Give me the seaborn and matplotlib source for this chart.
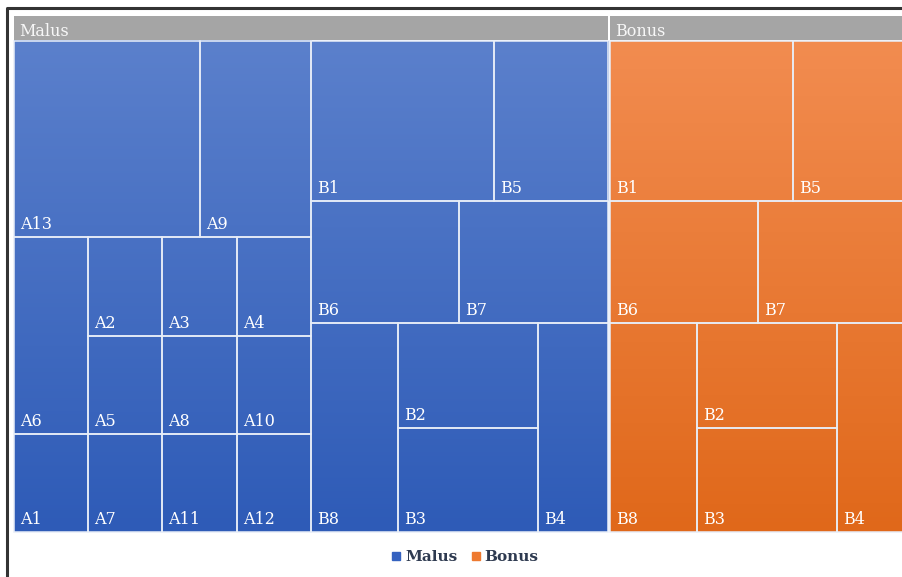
import numpy as np
import matplotlib
matplotlib.use("Agg")
import matplotlib.pyplot as plt
from matplotlib.lines import Line2D
from matplotlib.colors import to_rgb
import seaborn as sns

# ---- data -------------------------------------------------------------
groups = ["Malus", "Bonus"]
a_labels = ["A13", "A9", "A6", "A2", "A3", "A4", "A5", "A8", "A10",
            "A1", "A7", "A11", "A12"]
a_values = [5, 3, 2, 1, 1, 1, 1, 1, 1, 1, 1, 1, 1]
b_labels = ["B1", "B5", "B6", "B7", "B8", "B2", "B3", "B4"]
b_malus = [4, 2.5, 2.5, 2.5, 2.5, 2, 2, 2]
b_bonus = [4, 2.5, 2.5, 2.5, 2.5, 2, 2, 2]

# colour ramps (top -> bottom)
ramps = {"Malus": ("#5b80cc", "#2e5bb7"), "Bonus": ("#f28c50", "#e0681a")}
legend_marker = {"Malus": "#3562c0", "Bonus": "#ee7a30"}
header_color = "#a5a5a5"
legend_text = "#2e3a50"

sns.set_theme(style="white")
plt.rcParams["font.family"] = ["DejaVu Serif", "DejaVu Sans"]

# ---- treemap arrangement (split direction, children) --------------------
# "v" stacks children top to bottom, "h" places them left to right;
# every split is sized by the summed values of its children.
a_tree = ("v", [
    ("h", ["A13", "A9"]),
    ("v", [
        ("h", ["A6", ("v", [("h", ["A2", "A3", "A4"]),
                             ("h", ["A5", "A8", "A10"])])]),
        ("h", ["A1", "A7", "A11", "A12"]),
    ]),
])
b_tree = ("v", [
    ("h", ["B1", "B5"]),
    ("h", ["B6", "B7"]),
    ("h", ["B8", ("v", ["B2", "B3"]), "B4"]),
])


def weight(node, vals):
    if isinstance(node, str):
        return vals[node]
    return sum(weight(c, vals) for c in node[1])


def place(node, vals, x0, y0, x1, y1, out):
    if isinstance(node, str):
        out[node] = (x0, y0, x1, y1)
        return
    direction, children = node
    total = weight(node, vals)
    pos = x0 if direction == "h" else y0
    span = (x1 - x0) if direction == "h" else (y1 - y0)
    for c in children:
        step = span * weight(c, vals) / total
        if direction == "h":
            place(c, vals, pos, y0, pos + step, y1, out)
        else:
            place(c, vals, x0, pos, x1, pos + step, out)
        pos += step


malus_vals = dict(zip(a_labels, a_values))
malus_vals.update({"B:" + k: v for k, v in zip(b_labels, b_malus)})
bonus_vals = {"B:" + k: v for k, v in zip(b_labels, b_bonus)}


def prefixed(node):
    if isinstance(node, str):
        return "B:" + node
    return (node[0], [prefixed(c) for c in node[1]])


malus_tree = ("h", [a_tree, prefixed(b_tree)])
bonus_tree = prefixed(b_tree)

# ---- figure in pixel coordinates ----------------------------------------
W, H = 903, 577
fig = plt.figure(figsize=(W / 100, H / 100), dpi=100)
ax = fig.add_axes([0, 0, 1, 1])
ax.set_xlim(0, W)
ax.set_ylim(H, 0)
ax.axis("off")

left, head_top, head_bot, top, bottom = 14, 16, 40, 41, 532
unit = 594 / weight(malus_tree, malus_vals)
gap = 2

x = left
for name, tree, vals in [("Malus", malus_tree, malus_vals),
                         ("Bonus", bonus_tree, bonus_vals)]:
    width = unit * weight(tree, vals)
    # group header
    ax.add_patch(plt.Rectangle((x, head_top), width, head_bot - head_top,
                               facecolor=header_color, edgecolor="none"))
    ax.text(x + 5, head_bot - 4.5, name, color="#f7f7f7", fontsize=11.5,
            ha="left", va="baseline")
    rects = {}
    place(tree, vals, x, top, x + width, bottom, rects)
    c_top = np.array(to_rgb(ramps[name][0]))
    c_bot = np.array(to_rgb(ramps[name][1]))
    for key, (rx0, ry0, rx1, ry1) in rects.items():
        ys = np.linspace(ry0, ry1, 64)
        t = ((ys - top) / (bottom - top))[:, None, None]
        img = c_top * (1 - t) + c_bot * t
        ax.imshow(img, extent=(rx0, rx1, ry1, ry0), aspect="auto",
                  interpolation="bilinear", zorder=1)
        ax.add_patch(plt.Rectangle((rx0, ry0), rx1 - rx0, ry1 - ry0,
                                   facecolor="none", edgecolor="#e8eef8",
                                   lw=1.1, zorder=2))
        ax.text(rx0 + 6, ry1 - 8, key.replace("B:", ""), color="white",
                fontsize=11.5, ha="left", va="baseline", zorder=3)
    x += width + gap

ax.set_xlim(0, W)
ax.set_ylim(H, 0)

# chart frame
ax.plot([7, 7, W], [H, 8, 8], color="#333333", lw=2.2,
        solid_capstyle="butt", zorder=5)

# legend
handles = [Line2D([], [], marker="s", linestyle="none", markersize=6,
                  color=legend_marker[g], label=g) for g in groups]
leg = ax.legend(handles=handles, loc="center", ncol=2, frameon=False,
                bbox_to_anchor=(465 / W, 1 - 557 / H),
                handlelength=0.6, handletextpad=0.3, columnspacing=0.9,
                prop={"family": "DejaVu Serif", "weight": "bold", "size": 11})
for txt in leg.get_texts():
    txt.set_color(legend_text)

fig.savefig("out.png", dpi=100)
